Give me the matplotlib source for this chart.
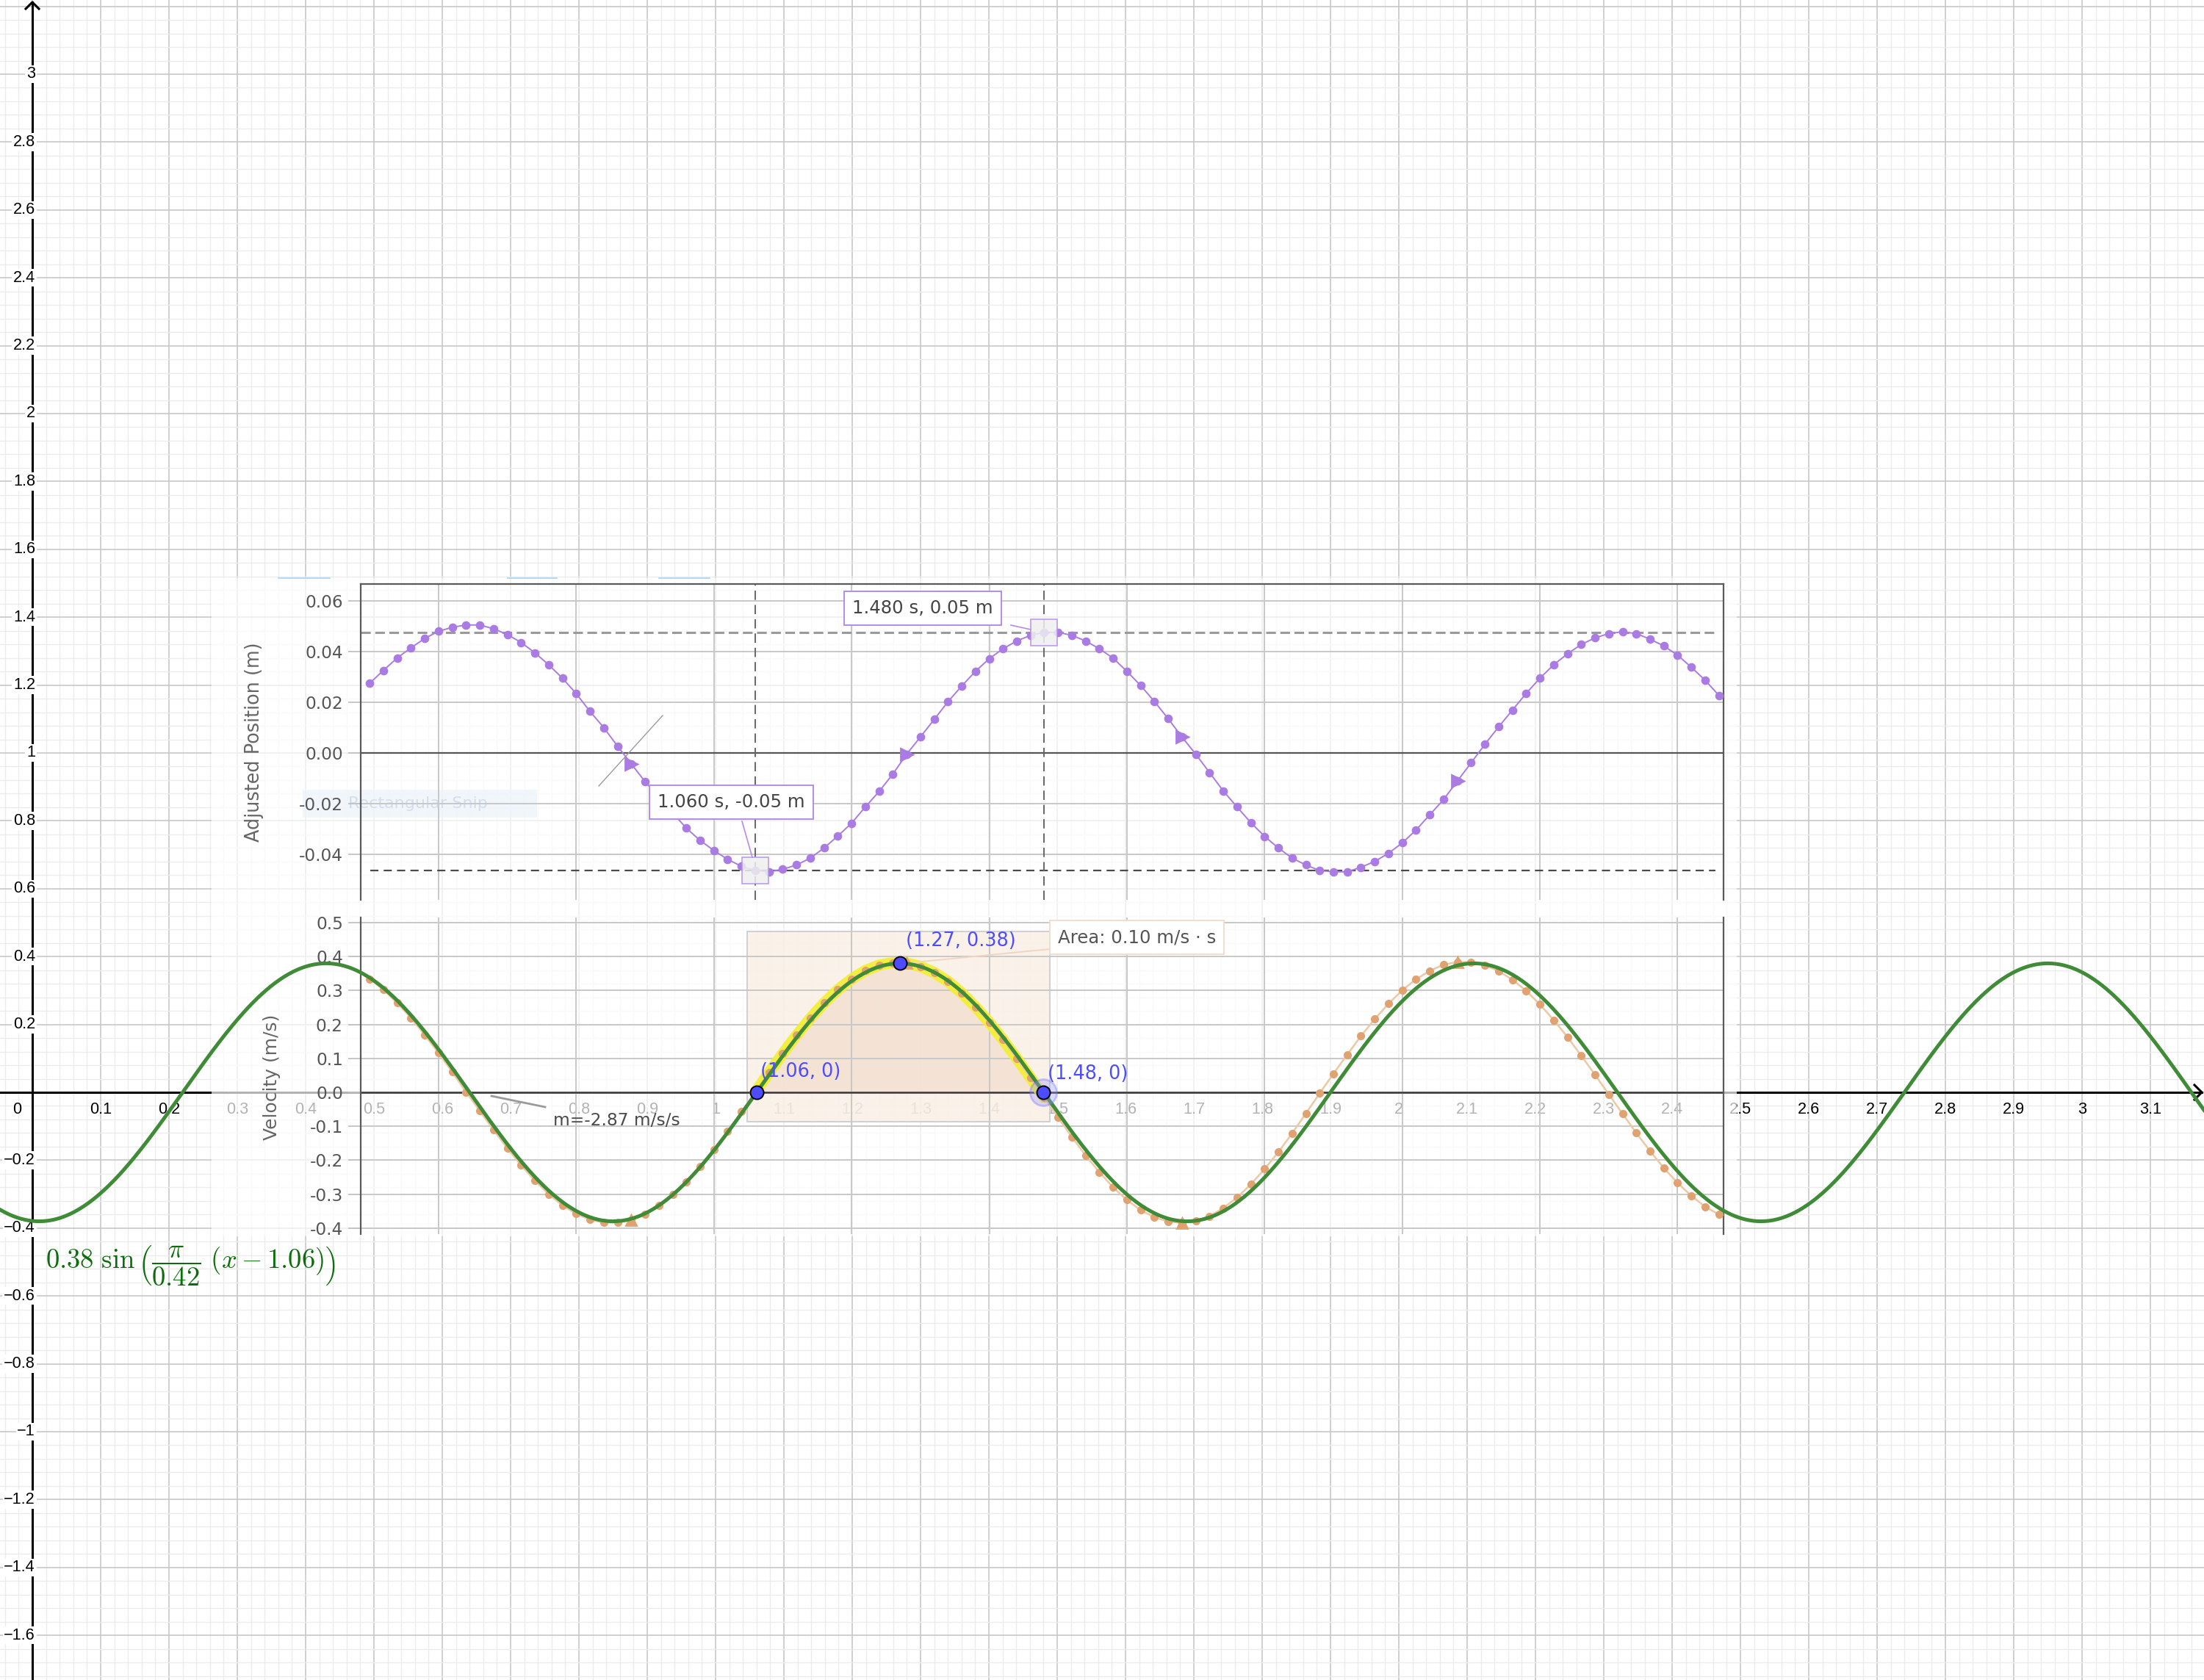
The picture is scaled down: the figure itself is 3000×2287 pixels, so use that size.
import numpy as np
import matplotlib.pyplot as plt
from matplotlib.patches import Rectangle
from matplotlib.ticker import MultipleLocator

plt.rcParams['mathtext.fontset'] = 'cm'
plt.rcParams['axes.unicode_minus'] = False

W, H, DPI = 3000, 2287, 200

# GeoGebra view: pixel of the origin and pixels per unit
X0, Y0, SX, SY = 44, 1487, 930, 462
# pasted Vernier screenshot: its time axis is slightly stretched against GeoGebra x
T_REF, G_REF, T_SCALE = 1.06, 1.058, 1.0075
# position panel: pixel row of 0 m and pixels per metre
P0, SP = 1025, 3450


def gx(px):
    return (px - X0) / SX


def gy(py):
    return (Y0 - py) / SY


def tx(px):
    return T_REF + (gx(px) - G_REF) / T_SCALE


def fx(px):
    return px / W


def fy(py):
    return 1 - py / H


# ---- data -------------------------------------------------------------
fit_amp = 0.38
fit_half_period = 0.42
fit_shift = 1.06

points_x = [1.06, 1.27, 1.48]
points_y = [0.0, 0.38, 0.0]
point_labels = ['(1.06, 0)', '(1.27, 0.38)', '(1.48, 0)']
slope_text = 'm=-2.87 m/s/s'

# Vernier samples every 0.02 s
time_s = np.round(np.arange(0.50, 2.461, 0.02), 2)
position_m = [
    0.0275, 0.0326, 0.0375, 0.0415, 0.0452, 0.0480, 0.0496, 0.0505, 0.0505, 0.0490,
    0.0467, 0.0436, 0.0395, 0.0348, 0.0295, 0.0234, 0.0164, 0.0100, 0.0027, -0.0043,
    -0.0113, -0.0175, -0.0236, -0.0297, -0.0345, -0.0385, -0.0420, -0.0447, -0.0464, -0.0469,
    -0.0459, -0.0442, -0.0415, -0.0375, -0.0328, -0.0277, -0.0213, -0.0152, -0.0083, -0.0005,
    0.0063, 0.0132, 0.0202, 0.0264, 0.0322, 0.0372, 0.0411, 0.0442, 0.0464, 0.0476,
    0.0476, 0.0464, 0.0442, 0.0411, 0.0374, 0.0322, 0.0266, 0.0203, 0.0135, 0.0063,
    -0.0005, -0.0077, -0.0150, -0.0213, -0.0275, -0.0329, -0.0375, -0.0415, -0.0442, -0.0464,
    -0.0469, -0.0469, -0.0451, -0.0428, -0.0396, -0.0355, -0.0304, -0.0244, -0.0184, -0.0111,
    -0.0039, 0.0034, 0.0103, 0.0169, 0.0235, 0.0295, 0.0348, 0.0391, 0.0428, 0.0454,
    0.0471, 0.0478, 0.0471, 0.0449, 0.0422, 0.0386, 0.0338, 0.0287, 0.0227,
]
velocity_ms = [
    0.334, 0.302, 0.263, 0.219, 0.169, 0.116, 0.060, 0.001, -0.055, -0.111,
    -0.165, -0.215, -0.260, -0.300, -0.333, -0.358, -0.375, -0.384, -0.384, -0.376,
    -0.359, -0.334, -0.301, -0.263, -0.218, -0.168, -0.114, -0.057, 0.000, 0.058,
    0.114, 0.168, 0.218, 0.263, 0.302, 0.334, 0.359, 0.375, 0.382, 0.381,
    0.371, 0.353, 0.327, 0.293, 0.252, 0.206, 0.155, 0.100, 0.043, -0.015,
    -0.074, -0.131, -0.186, -0.235, -0.280, -0.317, -0.347, -0.368, -0.381, -0.385,
    -0.379, -0.365, -0.341, -0.310, -0.271, -0.226, -0.176, -0.121, -0.062, -0.003,
    0.055, 0.111, 0.166, 0.216, 0.261, 0.301, 0.333, 0.358, 0.376, 0.384,
    0.384, 0.375, 0.357, 0.332, 0.299, 0.259, 0.213, 0.163, 0.108, 0.052,
    -0.006, -0.063, -0.120, -0.173, -0.223, -0.267, -0.305, -0.337, -0.360,
]
pos_ticks = [-0.04, -0.02, 0.0, 0.02, 0.04, 0.06]
vel_ticks = [-0.4, -0.3, -0.2, -0.1, 0.0, 0.1, 0.2, 0.3, 0.4, 0.5]

position_m = np.array(position_m)
velocity_ms = np.array(velocity_ms)
i106 = int(np.argmin(abs(time_s - 1.06)))
i148 = int(np.argmin(abs(time_s - 1.48)))
arrow_idx = [19, 39, 59, 79]
sel = (time_s >= 1.06) & (time_s <= 1.48)
area = np.trapezoid(velocity_ms[sel], time_s[sel])

PURPLE = '#a97be3'
BOX_PURPLE = '#b48ce6'
GG_BLUE = '#4d4dff'

fig = plt.figure(figsize=(W / DPI, H / DPI), dpi=DPI)

# ---- GeoGebra graphics view -------------------------------------------
ax = fig.add_axes([0, 0, 1, 1])
ax.set_xlim(gx(0), gx(W))
ax.set_ylim(gy(H), gy(0))
for s in ax.spines.values():
    s.set_visible(False)
ax.xaxis.set_major_locator(MultipleLocator(0.1))
ax.xaxis.set_minor_locator(MultipleLocator(0.02))
ax.yaxis.set_major_locator(MultipleLocator(0.2))
ax.yaxis.set_minor_locator(MultipleLocator(0.04))
ax.tick_params(which='both', length=0, labelbottom=False, labelleft=False)
ax.set_axisbelow(True)
ax.grid(which='minor', color='#ececec', lw=0.5)
ax.grid(which='major', color='#c8c8c8', lw=0.6)

ax.plot([gx(0), gx(2997)], [0, 0], color='black', lw=1.1, zorder=3)
ax.plot([gx(2987), gx(2997), gx(2987)], [gy(1477), 0, gy(1497)], color='black', lw=1.1, zorder=3)
ax.plot([0, 0], [gy(H), gy(3)], color='black', lw=1.1, zorder=3)
ax.plot([gx(35), 0, gx(53)], [gy(12), gy(3), gy(12)], color='black', lw=1.1, zorder=3)

ax.text(gx(23), gy(1511), '0', ha='center', va='center', fontsize=7.8,
        family='Liberation Sans', zorder=5)
for k in range(1, 32):
    v = k / 10
    ax.text(v, gy(1511), f'{v:g}', ha='center', va='center', fontsize=7.8,
            family='Liberation Sans', zorder=5)
for k in range(-8, 16):
    if k == 0:
        continue
    v = round(k * 0.2, 1)
    ax.text(gx(48), v, f'{v:g}'.replace('-', '\u2212'), ha='right', va='center',
            fontsize=7.8, family='Liberation Sans', zorder=5,
            bbox=dict(fc='white', ec='none', pad=0.6))

# pasted screenshot is semi transparent
ax.add_patch(Rectangle((gx(288), gy(1683)), gx(2364) - gx(288), gy(787) - gy(1683),
                       fc='white', ec='none', alpha=0.7, zorder=10))

# ---- Vernier panels ---------------------------------------------------
grid_times = np.arange(0.6, 2.41, 0.2)


def vernier_panel(a, ticks, top_spine):
    a.set_facecolor('none')
    a.set_xlim(tx(490.5), tx(2346))
    a.set_xticks(grid_times)
    a.set_yticks(ticks)
    a.set_yticklabels([f'{v:.{2 if abs(ticks[-1]) < 0.1 else 1}f}' for v in ticks])
    a.tick_params(axis='x', length=0, labelbottom=False)
    a.tick_params(axis='y', length=6, width=0.6, color='#bdbdbd', pad=2.5,
                  labelsize=8.4, labelcolor='#555555')
    a.grid(color='#c8c8c8', lw=0.7)
    a.spines['bottom'].set_visible(False)
    a.spines['top'].set_visible(top_spine)
    for s in ['left', 'right', 'top']:
        a.spines[s].set_color('#5a5a5a')
        a.spines[s].set_linewidth(0.8)


ax_pos = fig.add_axes([fx(490.5), fy(1225), (2346 - 490.5) / W, (1225 - 794.5) / H], zorder=1)
vernier_panel(ax_pos, pos_ticks, True)
ax_pos.set_ylim((P0 - 1225) / SP, (P0 - 794.5) / SP)
ax_pos.axhline(0, color='#555555', lw=0.8, zorder=2)
ax_pos.hlines(position_m[i148], tx(490.5), tx(2335), colors='#9a9a9a', lw=1.1,
              linestyles=(0, (4.3, 2.0)), zorder=2)
ax_pos.hlines(position_m[i106], tx(504), tx(2335), colors='#4a4a4a', lw=0.8,
              linestyles=(0, (5, 3.2)), zorder=2)
for i in (i106, i148):
    ax_pos.axvline(time_s[i], color='#666666', lw=0.7, ls=(0, (6.5, 3.5)), zorder=2)
ax_pos.plot(time_s, position_m, color=PURPLE, lw=0.7, marker='o', ms=3.2, zorder=3)
ax_pos.plot(time_s[arrow_idx], position_m[arrow_idx], ls='none', marker='>', ms=6,
            color=PURPLE, zorder=3)
ax_pos.plot(time_s[[i106, i148]], position_m[[i106, i148]], ls='none', marker='s', ms=13,
            mfc='#efefef', mec=BOX_PURPLE, mew=0.6, alpha=0.85, zorder=4)

ax_vel = fig.add_axes([fx(490.5), fy(1680), (2346 - 490.5) / W, (1680 - 1249) / H], zorder=1)
vernier_panel(ax_vel, vel_ticks, False)
ax_vel.set_ylim(gy(1680), gy(1249))
ax_vel.axhline(0, color='#3a3a3a', lw=0.9, zorder=2)
ax_vel.add_patch(Rectangle((tx(1017), gy(1527)), tx(1429) - tx(1017), gy(1268) - gy(1527),
                           fc='#f9eee4', ec='#c3c6ce', lw=0.7, alpha=0.8, zorder=1.2))
ax_vel.fill_between(time_s[sel], 0, velocity_ms[sel], color='#f0dbc6', alpha=0.6, lw=0,
                    zorder=1.3)
ax_vel.plot(time_s[sel], velocity_ms[sel], color='#f3ef2e', lw=5.5, alpha=0.9,
            solid_capstyle='round', zorder=2.5)
ax_vel.plot(time_s, velocity_ms, color='#eec7a3', lw=0.9, zorder=3)
ax_vel.plot(time_s, velocity_ms, ls='none', marker='o', ms=3, color='#e0a271', zorder=3.1)
ax_vel.plot(time_s[arrow_idx], velocity_ms[arrow_idx], ls='none', marker='^', ms=5,
            color='#e0a271', zorder=3.1)

# Vernier texts and boxes
fig.text(fx(346), fy(1010), 'Adjusted Position (m)', rotation=90, ha='center', va='center',
         fontsize=9.2, color='#666666')
fig.text(fx(369.5), fy(1466), 'Velocity (m/s)', rotation=90, ha='center', va='center',
         fontsize=9, color='#666666')
fig.add_artist(Rectangle((fx(412), fy(1113)), (731 - 412) / W, (1113 - 1075) / H,
                         transform=fig.transFigure, fc='#eef4fb', ec='none', alpha=0.8,
                         zorder=0.5))
fig.text(fx(474), fy(1094), 'Rectangular Snip', fontsize=8, color='#d3deeb', va='center',
         zorder=0.6)

lab_box = dict(boxstyle='square,pad=0.45', fc='white', ec=BOX_PURPLE, lw=0.7)
fig.text(fx(1160), fy(828), f'{time_s[i148]:.3f} s, {position_m[i148]:.2f} m',
         fontsize=8.8, color='#444444', va='center', bbox=lab_box)
fig.text(fx(895), fy(1092), f'{time_s[i106]:.3f} s, {position_m[i106]:.2f} m',
         fontsize=8.8, color='#444444', va='center', bbox=lab_box)
fig.text(fx(1440), fy(1276), f'Area: {area:.2f} m/s \u00b7 s', fontsize=8.8, color='#555555',
         va='center', bbox=dict(boxstyle='square,pad=0.45', fc='white', ec='#f2ddd0', lw=0.7))
fig.text(fx(753), fy(1526), slope_text, fontsize=8.4, color='#4a4a4a', va='center')

# ---- GeoGebra objects on top --------------------------------------------
ax_top = fig.add_axes([0, 0, 1, 1], zorder=2)
ax_top.set_xlim(ax.get_xlim())
ax_top.set_ylim(ax.get_ylim())
ax_top.axis('off')

# leader lines of the screenshot
ax_top.plot([gx(1376), gx(1403)], [gy(851), gy(857)], color=BOX_PURPLE, lw=0.6)
ax_top.plot([gx(1010), gx(1024)], [gy(1118), gy(1167)], color=BOX_PURPLE, lw=0.6)
ax_top.plot([gx(1224), gx(1429)], [gy(1312), gy(1292)], color='#f0d6c2', lw=0.7)
ax_top.plot([gx(669), gx(742)], [gy(1492), gy(1507)], color='#9a9a9a', lw=1.0)
ax_top.plot([gx(815), gx(902)], [gy(1070), gy(974)], color='#9a9a9a', lw=0.5)
for a, b in [(379, 449), (691, 758), (897, 966)]:
    ax_top.plot([gx(a), gx(b)], [gy(787), gy(787)], color='#a9d2f2', lw=0.6)

xs = np.linspace(gx(0), gx(W), 1500)
ax_top.plot(xs, fit_amp * np.sin(np.pi / fit_half_period * (xs - fit_shift)),
            color='#3f8b37', lw=1.8, zorder=3)

ax_top.plot(points_x[2], points_y[2], marker='o', ms=13, mfc='#9a9aff', mec='#7070ff',
            alpha=0.35, zorder=4)
ax_top.plot(points_x, points_y, ls='none', marker='o', ms=6.5, mfc=GG_BLUE, mec='black',
            mew=0.7, zorder=5)
offsets = [(2, 10), (3, 11), (2, 9)]
for x, y, lab, off in zip(points_x, points_y, point_labels, offsets):
    ax_top.annotate(lab, (x, y), xytext=off, textcoords='offset points', ha='left',
                    va='center', fontsize=9.2, color=GG_BLUE, zorder=6)

formula = (rf'${fit_amp}\ \sin\left(\dfrac{{\pi}}{{{fit_half_period}}}\ '
           rf'(x - {fit_shift})\right)$')
ax_top.text(gx(62), gy(1722), formula, color='#0b6d0b', fontsize=13.2, ha='left',
            va='center', zorder=6)

fig.savefig('out.png', dpi=DPI)
